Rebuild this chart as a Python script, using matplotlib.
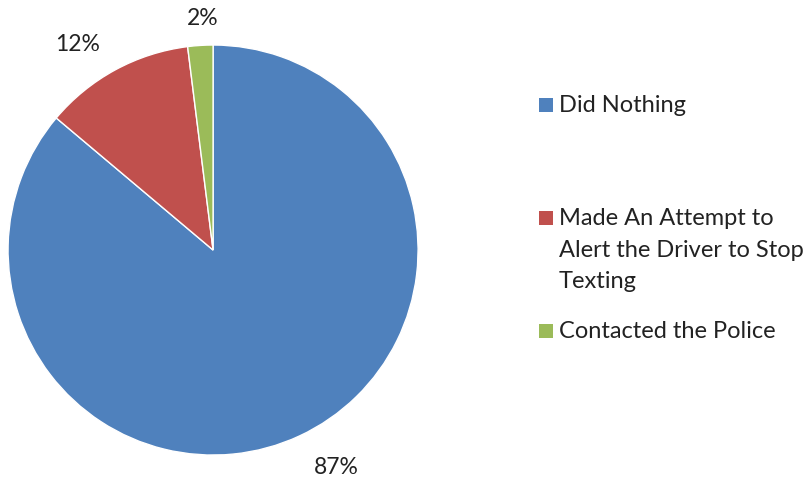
import numpy as np
import matplotlib.pyplot as plt
from matplotlib.patches import Rectangle

categories = ["Did Nothing", "Made An Attempt to\nAlert the Driver to Stop\nTexting", "Contacted the Police"]
values = [87, 12, 2]
pct_labels = ["87%", "12%", "2%"]
colors = ["#4F81BD", "#C0504D", "#9BBB59"]

plt.rcParams["font.family"] = ["Lato", "DejaVu Sans"]

fig = plt.figure(figsize=(8.12, 4.79), dpi=100)
ax = fig.add_axes([0.0099, 0.050, 0.505, 0.856])

wedges, _ = ax.pie(values, colors=colors, startangle=90, counterclock=False,
                   wedgeprops=dict(edgecolor="white", linewidth=1))

# label placement (angle shift in degrees, radial distance)
label_shift = [4.7, 4.8, -1.1]
label_dist = [1.22, 1.2, 1.13]
for w, lab, da, r in zip(wedges, pct_labels, label_shift, label_dist):
    ang = np.deg2rad((w.theta1 + w.theta2) / 2 + da)
    ax.text(r * np.cos(ang), r * np.sin(ang), lab, fontsize=16.5, color="#222222",
            ha="center", va="center")
ax.set_aspect("equal")
ax.set_xlim(-1, 1)
ax.set_ylim(-1, 1)

# legend drawn by hand to match the uneven spacing
legend_y = [105, 218, 331]
for cat, col, yy in zip(categories, colors, legend_y):
    yf = 1 - yy / 479
    fig.patches.append(Rectangle((539 / 812, yf - 7 / 479), 14 / 812, 14 / 479,
                                 transform=fig.transFigure, facecolor=col, edgecolor="none"))
    fig.text(559 / 812, yf + 10 / 479, cat, fontsize=17, va="top", ha="left",
             color="#222222", linespacing=1.62)

fig.savefig("out.png", dpi=100)
